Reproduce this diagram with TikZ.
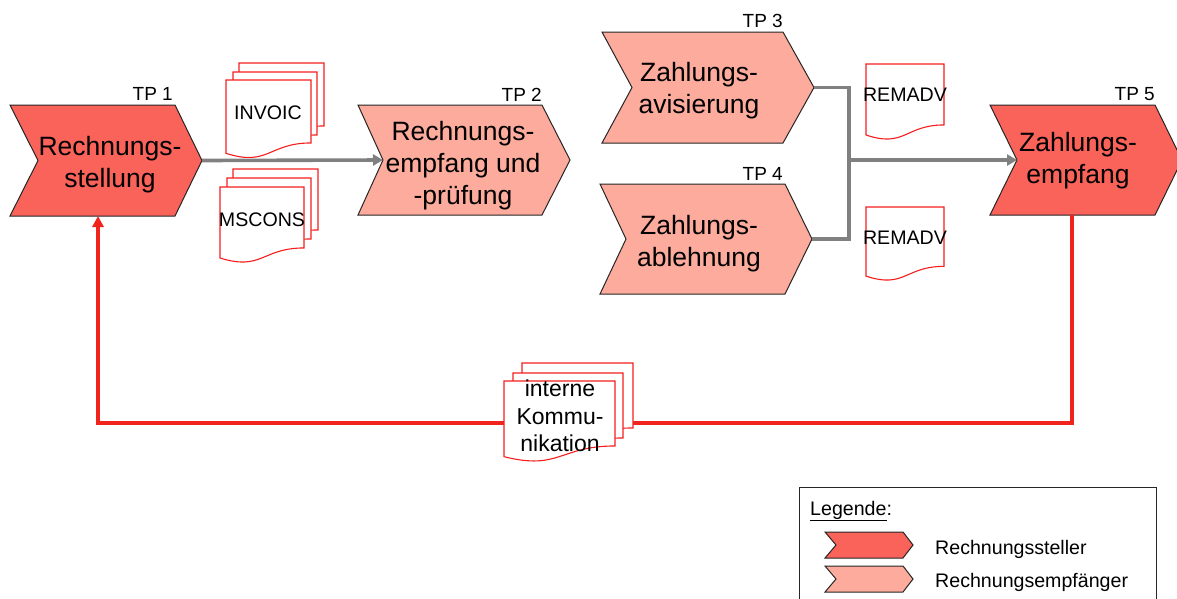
\documentclass[tikz,border=0pt]{standalone}
\usepackage{fontspec}
\setmainfont{Liberation Sans}
\usetikzlibrary{calc,arrows.meta}

\definecolor{steller}{RGB}{249,99,89}
\definecolor{empf}{RGB}{252,171,156}
\definecolor{flowgray}{RGB}{128,128,128}
\definecolor{fbred}{RGB}{240,36,28}
\definecolor{docred}{RGB}{245,30,30}

\tikzset{
  holder/.style={rectangle, draw=none, inner sep=0pt, outer sep=0pt},
  chevline/.style={draw=black!85, line width=1pt, line join=miter},
  chevtext/.style={align=center, inner sep=0pt, font=\fontsize{26.5}{32}\selectfont},
  tplabel/.style={anchor=base east, inner sep=0pt, font=\fontsize{19}{22}\selectfont},
  docline/.style={draw=docred, fill=white, line width=1.1pt},
  doctext/.style={inner sep=0pt, font=\fontsize{19.6}{23}\selectfont},
  kommtext/.style={align=center, inner sep=0pt, font=\fontsize{23}{27.5}\selectfont},
  legtext/.style={anchor=base west, inner sep=0pt, font=\fontsize{19.6}{23}\selectfont},
  flow/.style={draw=flowgray, line width=3.6pt},
  flowarrow/.style={flow, -{Triangle[length=10pt,width=11pt]}},
  feedback/.style={draw=fbred, line width=3.2pt, -{Triangle[length=11pt,width=11pt]}},
}

% chevron outline around a holder node: node, fill, notch depth, tip depth
\newcommand\chevshape[4]{%
  \path[chevline, fill=#2] (#1.north west) -- ($(#1.north east)-(#4,0)$) -- (#1.east)
    -- ($(#1.south east)-(#4,0)$) -- (#1.south west) -- ($(#1.west)+(#3,0)$) -- cycle;}

% document sheet with a wavy lower edge
\newcommand\docshape[1]{%
  \path[docline] (#1.north west) -- (#1.north east)
    -- ($(#1.north east)!0.802!(#1.south east)$)
    .. controls ($(#1.north)!0.802!(#1.south)$) and ($(#1.north)!1.107!(#1.south)$)
    .. ($(#1.north west)!0.934!(#1.south west)$) -- cycle;}

% name, top-left corner, width, height
\newcommand\docnode[4]{%
  \node[holder, anchor=north west, minimum width=#3pt, minimum height=#4pt] (#1) at (#2) {};
  \docshape{#1}}

\begin{document}
\begin{tikzpicture}[x=1pt, y=-1pt]
\useasboundingbox (0,0) rectangle (1177,598);

% process steps
\node[holder, minimum width=192pt, minimum height=111pt] (tp1) at (106,160.5) {};
\chevshape{tp1}{steller}{28}{27}
\node[chevtext] (tp1txt) at (110,164.8) {Rechnungs-\\stellung};
\node[tplabel] (tp1lab) at (173,100) {TP 1};

\node[holder, minimum width=212pt, minimum height=110pt] (tp2) at (464,160) {};
\chevshape{tp2}{empf}{25}{28}
\node[chevtext] (tp2txt) at (463,165.8) {Rechnungs-\\empfang und\\-prüfung};
\node[tplabel] (tp2lab) at (542,101) {TP 2};

\node[holder, minimum width=212pt, minimum height=111pt] (tp3) at (708,87.5) {};
\chevshape{tp3}{empf}{30}{31}
\node[chevtext] (tp3txt) at (699,90.8) {Zahlungs-\\avisierung};
\node[tplabel] (tp3lab) at (783,27) {TP 3};

\node[holder, minimum width=212pt, minimum height=110pt] (tp4) at (706,239) {};
\chevshape{tp4}{empf}{26}{27}
\node[chevtext] (tp4txt) at (699,243.8) {Zahlungs-\\ablehnung};
\node[tplabel] (tp4lab) at (783,180) {TP 4};

\node[holder, minimum width=192pt, minimum height=110pt] (tp5) at (1086,160) {};
\chevshape{tp5}{steller}{27}{27}
\node[chevtext] (tp5txt) at (1078,160.8) {Zahlungs-\\empfang};
\node[tplabel] (tp5lab) at (1155,100) {TP 5};

% internal feedback
\coordinate (fbright) at (1072,423);
\coordinate (fbleft) at (98,423);
\draw[feedback, line join=miter] (tp5.south -| fbright) -- (fbright) -- (fbleft) -- (fbleft |- tp1.south);

% documents
\docnode{invoicC}{239,63}{85}{78.5}
\docnode{invoicB}{233,72}{84}{78.5}
\docnode{invoicA}{226,80}{85}{78.5}
\node[doctext] (invoictxt) at (268,112.5) {INVOIC};

\docnode{msconsC}{233,169}{85}{76}
\docnode{msconsB}{227,178}{84}{76}
\docnode{msconsA}{220,187}{84}{76}
\node[doctext] (msconstxt) at (262,220) {MSCONS};

\docnode{remadvA}{866,64}{78}{76}
\node[doctext] (remadvAtxt) at (905,95) {REMADV};
\docnode{remadvB}{866,207}{78}{74}
\node[doctext] (remadvBtxt) at (905,237.5) {REMADV};

\docnode{kommC}{522,363}{111}{81}
\docnode{kommB}{513,373}{110}{81}
\docnode{kommA}{504,381}{111}{81}
\node[kommtext] (kommtxt) at (560,416) {interne\\Kommu-\\nikation};

% message flow
\coordinate (tp2in) at ($(tp2.west)+(25,0)$);
\coordinate (tp5in) at ($(tp5.west)+(27,0)$);
\coordinate (join) at (849,160);
\draw[flowarrow] (tp1.east) -- (tp2in);
\draw[flow, line join=miter] (tp3.east) -| (join |- tp4.east) -- (tp4.east);
\draw[flowarrow] (join) -- (tp5in);

% legend
\node[holder, draw=black!85, line width=1pt, anchor=north west,
      minimum width=357pt, minimum height=130pt] (legendbox) at (799,487) {};
\node[legtext] (legtitle) at (810,515) {\underline{Legende}:};
\node[holder, minimum width=88pt, minimum height=26pt] (leg1) at (869,545) {};
\chevshape{leg1}{steller}{11}{10}
\node[legtext] (leg1txt) at (935,554) {Rechnungssteller};
\node[holder, minimum width=88pt, minimum height=26pt] (leg2) at (869,579) {};
\chevshape{leg2}{empf}{11}{10}
\node[legtext] (leg2txt) at (935,587) {Rechnungsempfänger};
\end{tikzpicture}
\end{document}
